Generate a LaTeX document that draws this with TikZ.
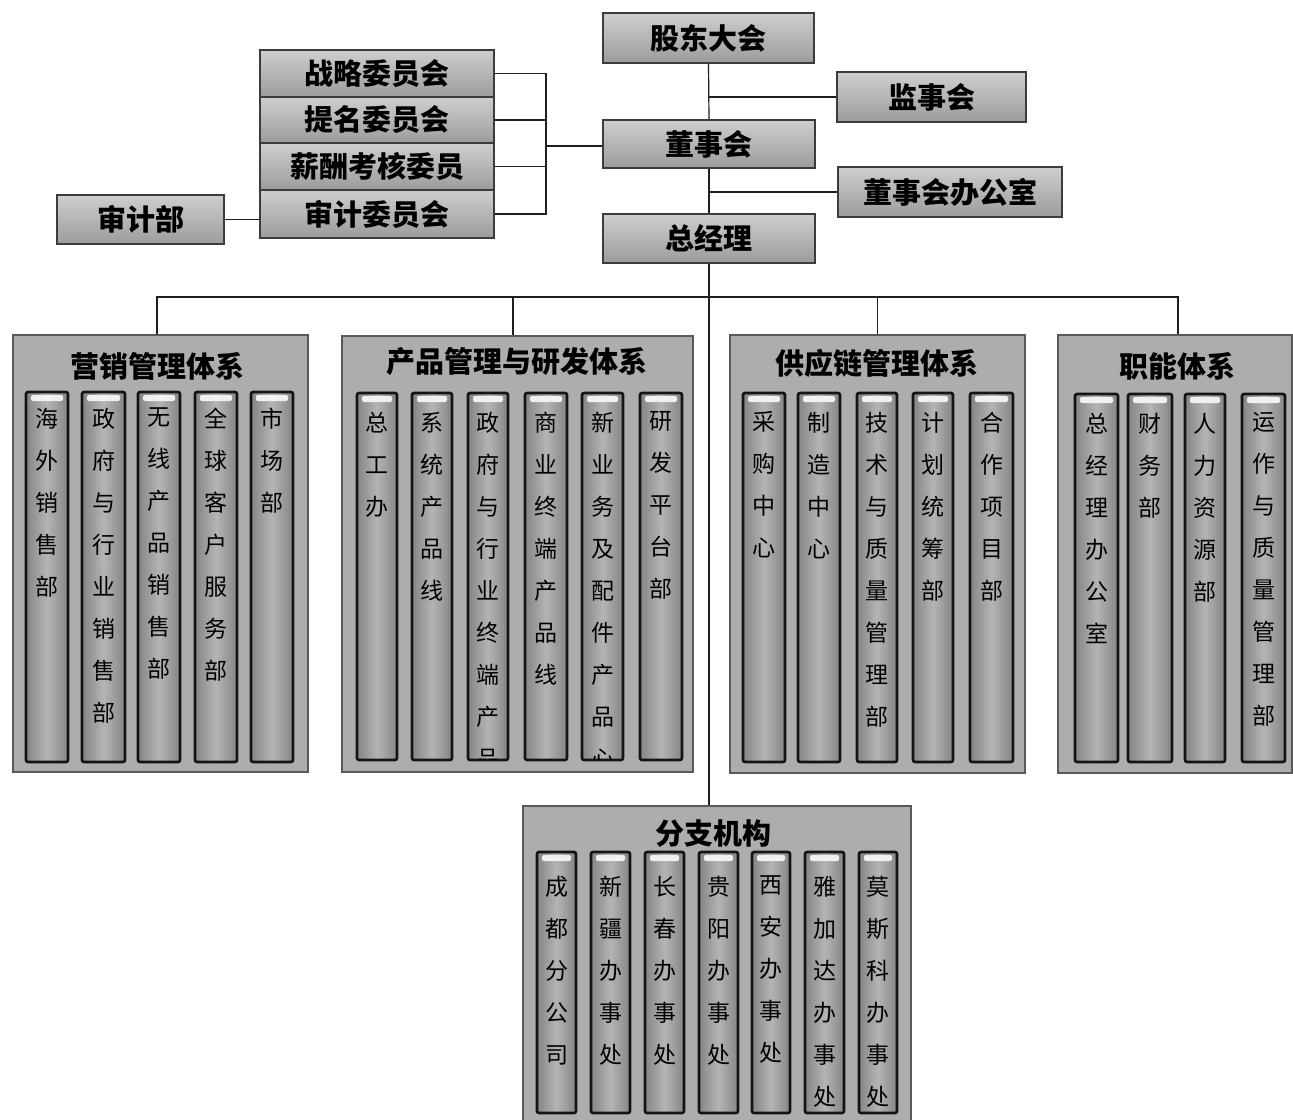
\documentclass[tikz,border=0pt]{standalone}
\usepackage{fontspec}
\newfontfamily\cjk{Noto Sans CJK SC}
\usetikzlibrary{calc}
\definecolor{boxfill}{HTML}{BEBEBE}
\definecolor{boxedge}{HTML}{3C3C3C}
\definecolor{sysfill}{HTML}{ADADAD}
\definecolor{barfill}{HTML}{858585}
\definecolor{barlight}{HTML}{B4B4B4}
\definecolor{linec}{HTML}{1E1E1E}
\tikzset{
  topbox/.style={draw=boxedge, line width=1.6pt, top color=boxfill!75!white, bottom color=boxfill!82!black,
    font=\cjk\bfseries\fontsize{29}{29}\selectfont, inner sep=0pt, text=black},
  conn/.style={draw=linec, line width=1.2pt},
  sysbox/.style={draw=black!65, line width=1.6pt, fill=sysfill, inner sep=0pt},
  systitle/.style={font=\cjk\bfseries\fontsize{29}{29}\selectfont, inner sep=0pt, text=black},
  colbar/.style={draw=black!92, line width=2.6pt, rounded corners=2pt, left color=barfill, right color=barfill, middle color=barlight, inner sep=0pt,
    path picture={\fill[white!88!gray, rounded corners=2pt] ([xshift=5pt,yshift=-3pt]path picture bounding box.north west) rectangle ([xshift=-5pt,yshift=-9pt]path picture bounding box.north east);}},
  coltext/.style={font=\cjk\fontsize{23}{42}\selectfont, align=center, inner sep=0pt, text=black}
}
\newcommand\mkcol[7]{%
  \node[colbar, minimum width={#3-#2}, minimum height={#5-#4}] (#1) at ({(#2+#3)/2},{(#4+#5)/2}) {};
  \begin{scope}
    \clip ([xshift=2pt,yshift=2pt]#1.south west) rectangle ([xshift=-2pt,yshift=-2pt]#1.north east);
    \node[coltext, anchor=north] (#1t) at ([yshift=-#7]#1.north) {#6};
  \end{scope}}
\begin{document}
\begin{tikzpicture}[x=1pt, y=-1pt]
\useasboundingbox (0,0) rectangle (1293,1119);
\clip (0,0) rectangle (1293,1119);
\fill[white] (0,0) rectangle (1293,1119);

% top chain
\node[topbox, minimum width=211pt, minimum height=50pt] (gd) at (708.5,38) {股东大会};
\node[topbox, minimum width=189pt, minimum height=50pt] (jsh) at (931.5,97) {监事会};
\node[topbox, minimum width=212pt, minimum height=48pt] (dsh) at (709,144) {董事会};
\node[topbox, minimum width=224pt, minimum height=50pt] (dsb) at (950,192) {董事会办公室};
\node[topbox, minimum width=212pt, minimum height=49pt] (zjl) at (709,238.5) {总经理};

% committees
\node[topbox, minimum width=234pt, minimum height=47pt] (c1) at (377,73.5) {战略委员会};
\node[topbox, minimum width=234pt, minimum height=46pt] (c2) at (377,120) {提名委员会};
\node[topbox, minimum width=234pt, minimum height=47pt] (c3) at (377,166.5) {薪酬考核委员};
\node[topbox, minimum width=234pt, minimum height=48pt] (c4) at (377,214) {审计委员会};
\node[topbox, minimum width=167pt, minimum height=49pt] (sjb) at (140.5,219.5) {审计部};

% system boxes
\node[sysbox, minimum width=295pt, minimum height=437pt] (yx) at (160.5,553.5) {};
\node[systitle] (yxt) at (157,366) {营销管理体系};
\node[sysbox, minimum width=351pt, minimum height=436pt] (cp) at (517.5,554) {};
\node[systitle] (cpt) at (517,362) {产品管理与研发体系};
\node[sysbox, minimum width=295pt, minimum height=438pt] (gy) at (877.5,554) {};
\node[systitle] (gyt) at (877,363) {供应链管理体系};
\node[sysbox, minimum width=234pt, minimum height=438pt] (zn) at (1175,554) {};
\node[systitle] (znt) at (1177,366) {职能体系};
\node[sysbox, minimum width=388pt, minimum height=322pt] (fz) at (717,967) {};
\node[systitle] (fzt) at (713,834) {分支机构};

% columns: marketing
\mkcol{y1}{26}{68}{392}{762}{海\\外\\销\\售\\部}{17pt}
\mkcol{y2}{82}{125}{392}{762}{政\\府\\与\\行\\业\\销\\售\\部}{17pt}
\mkcol{y3}{138}{180}{392}{762}{无\\线\\产\\品\\销\\售\\部}{17pt}
\mkcol{y4}{195}{237}{392}{762}{全\\球\\客\\户\\服\\务\\部}{17pt}
\mkcol{y5}{251}{293}{392}{762}{市\\场\\部}{17pt}
% product
\mkcol{p1}{357}{397}{393}{760}{总\\工\\办}{20pt}
\mkcol{p2}{412}{452}{393}{760}{系\\统\\产\\品\\线}{20pt}
\mkcol{p3}{468}{508}{393}{760}{政\\府\\与\\行\\业\\终\\端\\产\\品}{20pt}
\mkcol{p4}{525}{567}{393}{760}{商\\业\\终\\端\\产\\品\\线}{20pt}
\mkcol{p5}{582}{623}{393}{760}{新\\业\\务\\及\\配\\件\\产\\品\\心}{20pt}
\mkcol{p6}{640}{682}{393}{760}{研\\发\\平\\台\\部}{20pt}
% supply chain
\mkcol{g1}{743}{785}{393}{762}{采\\购\\中\\心}{20pt}
\mkcol{g2}{798}{840}{393}{762}{制\\造\\中\\心}{20pt}
\mkcol{g3}{857}{897}{393}{762}{技\\术\\与\\质\\量\\管\\理\\部}{20pt}
\mkcol{g4}{913}{953}{393}{762}{计\\划\\统\\筹\\部}{20pt}
\mkcol{g5}{970}{1013}{393}{762}{合\\作\\项\\目\\部}{20pt}
% functions
\mkcol{z1}{1075}{1118}{394}{762}{总\\经\\理\\办\\公\\室}{20pt}
\mkcol{z2}{1128}{1172}{394}{762}{财\\务\\部}{20pt}
\mkcol{z3}{1185}{1225}{394}{762}{人\\力\\资\\源\\部}{20pt}
\mkcol{z4}{1242}{1285}{394}{762}{运\\作\\与\\质\\量\\管\\理\\部}{20pt}
% branches
\mkcol{f1}{537}{576}{852}{1113}{成\\都\\分\\公\\司}{25pt}
\mkcol{f2}{591}{630}{852}{1113}{新\\疆\\办\\事\\处}{25pt}
\mkcol{f3}{645}{684}{852}{1113}{长\\春\\办\\事\\处}{25pt}
\mkcol{f4}{699}{738}{852}{1113}{贵\\阳\\办\\事\\处}{25pt}
\mkcol{f5}{752}{790}{852}{1113}{西\\安\\办\\事\\处}{25pt}
\mkcol{f6}{805}{844}{852}{1113}{雅\\加\\达\\办\\事\\处}{25pt}
\mkcol{f7}{859}{897}{852}{1113}{莫\\斯\\科\\办\\事\\处}{25pt}

% connectors
\draw[conn] (gd.south) -- (dsh.north);
\draw[conn] (dsh.south) -- (zjl.north);
\draw[conn] (gd.south |- jsh.west) -- (jsh.west);
\draw[conn] (dsh.south |- dsb.west) -- (dsb.west);
\coordinate (bk) at (546,146);
\draw[conn] (c1.east) -- (c1.east -| bk) -- (c4.east -| bk) -- (c4.east);
\draw[conn] (c2.east) -- (c2.east -| bk);
\draw[conn] (c3.east) -- (c3.east -| bk);
\draw[conn] (bk) -- (bk -| dsh.west);
\draw[conn] (sjb.east) -- (sjb.east -| c4.west);
\coordinate (bus) at (709,297);
\draw[conn] ([xshift=-3.5pt]yx.north) -- ([xshift=-3.5pt]yx.north |- bus) -- ([xshift=3pt]zn.north |- bus) -- ([xshift=3pt]zn.north);
\draw[conn] ([xshift=-4.5pt]cp.north) -- ([xshift=-4.5pt]cp.north |- bus);
\draw[conn] (gy.north) -- (gy.north |- bus);
\draw[conn] (zjl.south) -- (zjl.south |- fz.north);
\end{tikzpicture}
\end{document}
